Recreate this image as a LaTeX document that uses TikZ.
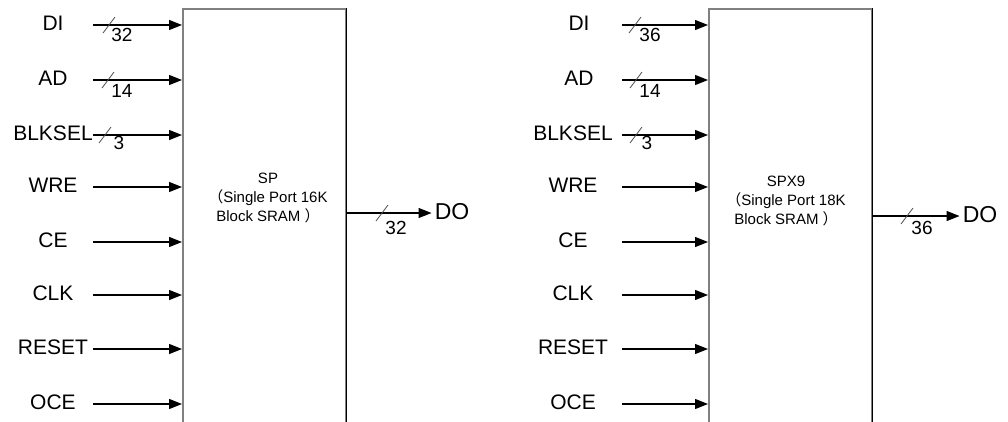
\documentclass[tikz,border=0pt]{standalone}
\usepackage{fontspec}
\setmainfont{Liberation Sans}
\newfontfamily\cjk{Noto Sans CJK SC}
\usetikzlibrary{arrows.meta}

\begin{document}
\begin{tikzpicture}[x=1pt,y=-1pt,
		pin/.style={minimum width=#1,inner sep=0pt,text height=15pt,text depth=4pt,font=\fontsize{21}{25}\selectfont},
		sig/.style={line width=1.2pt,-{Triangle[length=13pt,width=10pt]}},
		blk/.style={draw=black!50,line width=1.5pt,anchor=north west,minimum width=163pt,minimum height=440pt,inner sep=0pt},
		desc/.style={align=center,inner sep=0pt,font=\fontsize{15}{19}\selectfont},
		busw/.style={inner sep=0pt,font=\fontsize{19}{23}\selectfont},
		slash/.style={line width=0.8pt,black!70},
		outp/.style={inner xsep=3pt,inner ysep=0pt,text height=16pt,text depth=4pt,font=\fontsize{23}{27}\selectfont}]
				\useasboundingbox (0,0) rectangle (1008,421);
				\clip (0,0) rectangle (1008,421);

				\node[blk] (sp) at (182,8) {};
				\draw[line width=1.5pt] (sp.north east) -- (sp.south east);
				\node[desc] (spt) at (268,198) {SP\\{\cjk （}Single Port 16K\\Block SRAM {\cjk ）}};
				\node[pin=80pt] (di) at (53,25) {DI};
				\node[pin=80pt] (ad) at (53,80) {AD};
				\node[pin=80pt] (blksel) at (53,135) {BLKSEL};
				\node[pin=80pt] (wre) at (53,187) {WRE};
				\node[pin=80pt] (ce) at (53,242) {CE};
				\node[pin=80pt] (clk) at (53,295) {CLK};
				\node[pin=80pt] (reset) at (53,349) {RESET};
				\node[pin=80pt] (oce) at (53,404) {OCE};
				\draw[sig] (di.east) -- (di.east -| sp.west);
				\draw[sig] (ad.east) -- (ad.east -| sp.west);
				\draw[sig] (blksel.east) -- (blksel.east -| sp.west);
				\draw[sig] (wre.east) -- (wre.east -| sp.west);
				\draw[sig] (ce.east) -- (ce.east -| sp.west);
				\draw[sig] (clk.east) -- (clk.east -| sp.west);
				\draw[sig] (reset.east) -- (reset.east -| sp.west);
				\draw[sig] (oce.east) -- (oce.east -| sp.west);
				\draw[slash] (109,25) +(-6,8) -- +(6,-8);
				\draw[slash] (108,80) +(-6,8) -- +(6,-8);
				\draw[slash] (105,135) +(-6,8) -- +(6,-8);
				\node[busw] (wdi) at (122,35) {32};
				\node[busw] (wad) at (122,91) {14};
				\node[busw] (wblksel) at (119,143) {3};
				\node[outp] (do) at (452,213) {DO};
				\draw[sig] (sp.east |- do) -- (do.west);
				\draw[slash] (382,213) +(-6,8) -- +(6,-8);
				\node[busw] (wdo) at (396,228) {32};

				\node[blk] (sp2) at (708,8) {};
				\draw[line width=1.5pt] (sp2.north east) -- (sp2.south east);
				\node[desc] (spt2) at (786,201) {SPX9\\{\cjk （}Single Port 18K\\Block SRAM {\cjk ）}};
				\node[pin=86pt] (di2) at (579,25) {DI};
				\node[pin=86pt] (ad2) at (579,80) {AD};
				\node[pin=98pt] (blksel2) at (573,135) {BLKSEL};
				\node[pin=98pt] (wre2) at (573,187) {WRE};
				\node[pin=98pt] (ce2) at (573,242) {CE};
				\node[pin=98pt] (clk2) at (573,295) {CLK};
				\node[pin=98pt] (reset2) at (573,349) {RESET};
				\node[pin=98pt] (oce2) at (573,404) {OCE};
				\draw[sig] (di2.east) -- (di2.east -| sp2.west);
				\draw[sig] (ad2.east) -- (ad2.east -| sp2.west);
				\draw[sig] (blksel2.east) -- (blksel2.east -| sp2.west);
				\draw[sig] (wre2.east) -- (wre2.east -| sp2.west);
				\draw[sig] (ce2.east) -- (ce2.east -| sp2.west);
				\draw[sig] (clk2.east) -- (clk2.east -| sp2.west);
				\draw[sig] (reset2.east) -- (reset2.east -| sp2.west);
				\draw[sig] (oce2.east) -- (oce2.east -| sp2.west);
				\draw[slash] (635,25) +(-6,8) -- +(6,-8);
				\draw[slash] (636,80) +(-6,8) -- +(6,-8);
				\draw[slash] (636,135) +(-6,8) -- +(6,-8);
				\node[busw] (wdi2) at (650,35) {36};
				\node[busw] (wad2) at (650,91) {14};
				\node[busw] (wblksel2) at (647,143) {3};
				\node[outp] (do2) at (980,216) {DO};
				\draw[sig] (sp2.east |- do2) -- (do2.west);
				\draw[slash] (907,216) +(-6,8) -- +(6,-8);
				\node[busw] (wdo2) at (922,228) {36};
			\end{tikzpicture}
\end{document}
